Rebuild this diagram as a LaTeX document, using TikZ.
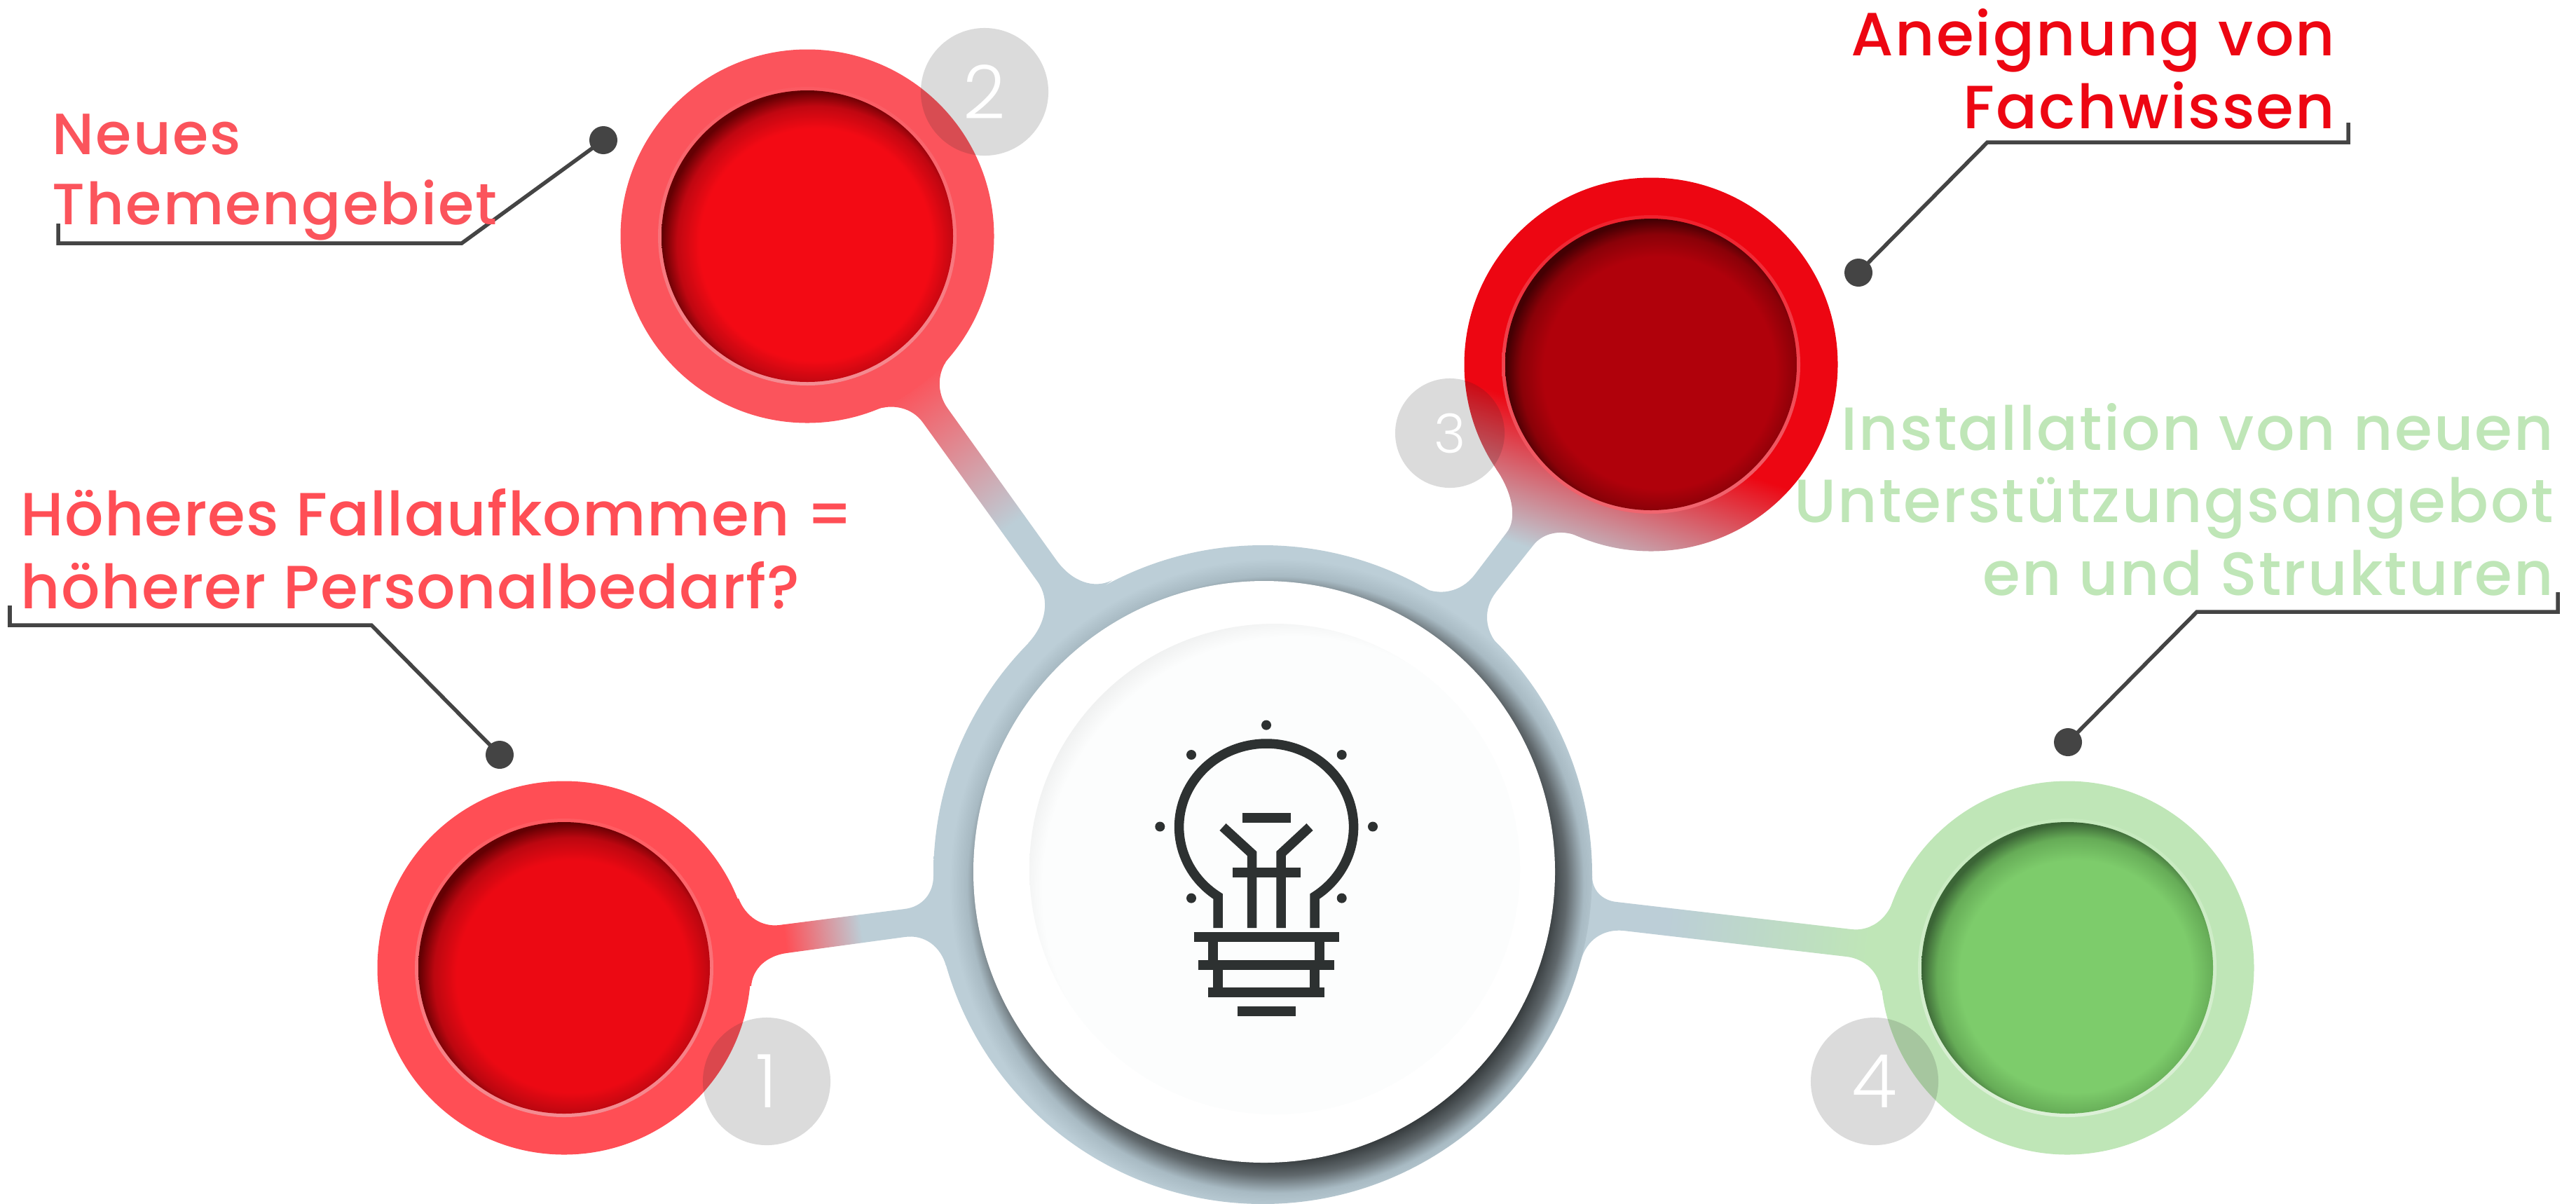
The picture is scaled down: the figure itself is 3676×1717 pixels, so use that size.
\documentclass[tikz,border=0pt]{standalone}
\usepackage{fontspec}
\usetikzlibrary{calc}
\newfontfamily\labelfont[LetterSpace=2.6]{Poppins Medium}
\newfontfamily\labelfontB[LetterSpace=1.5]{Poppins Medium}
\newfontfamily\digitfont{Poppins Light}
\definecolor{ringblue}{HTML}{BCCED7}
\definecolor{aOne}{HTML}{FF4E55}\definecolor{bOne}{HTML}{EC0913}\definecolor{cOne}{HTML}{640003}\definecolor{mOne}{HTML}{BC0710}
\definecolor{aTwo}{HTML}{FB545C}\definecolor{bTwo}{HTML}{F30A14}\definecolor{cTwo}{HTML}{640003}\definecolor{mTwo}{HTML}{C00711}
\definecolor{aThree}{HTML}{ED0612}\definecolor{bThree}{HTML}{B0010B}\definecolor{cThree}{HTML}{440003}\definecolor{mThree}{HTML}{8A0108}
\definecolor{aFour}{HTML}{BFE6B7}\definecolor{bFour}{HTML}{7DCC6B}\definecolor{cFour}{HTML}{3B6536}\definecolor{mFour}{HTML}{66AC57}
\definecolor{rimOneA}{HTML}{FF5A60}\definecolor{rimOneB}{HTML}{F48C92}
\definecolor{rimTwoA}{HTML}{FB5A62}\definecolor{rimTwoB}{HTML}{F48C92}
\definecolor{rimThreeA}{HTML}{F0202C}\definecolor{rimThreeB}{HTML}{F06670}
\definecolor{rimFourA}{HTML}{C5EABD}\definecolor{rimFourB}{HTML}{DDF0D8}
\definecolor{leader}{HTML}{444444}
\definecolor{iconink}{HTML}{2D3131}
\definecolor{sdA}{HTML}{33383A}\definecolor{sdB}{HTML}{60686C}\definecolor{sdC}{HTML}{A8BAC3}
\definecolor{softA}{HTML}{FCFDFD}\definecolor{softB}{HTML}{EFF0F0}
\pgfdeclareradialshading{radOne}{\pgfpointorigin}{color(0bp)=(bOne); color(18bp)=(bOne); color(21.5bp)=(mOne); color(23.8bp)=(cOne); color(50bp)=(cOne)}
\pgfdeclareradialshading{radTwo}{\pgfpointorigin}{color(0bp)=(bTwo); color(18bp)=(bTwo); color(21.5bp)=(mTwo); color(23.8bp)=(cTwo); color(50bp)=(cTwo)}
\pgfdeclareradialshading{radThree}{\pgfpointorigin}{color(0bp)=(bThree); color(18bp)=(bThree); color(21.5bp)=(mThree); color(23.8bp)=(cThree); color(50bp)=(cThree)}
\pgfdeclareradialshading{radFour}{\pgfpointorigin}{color(0bp)=(bFour); color(18bp)=(bFour); color(21.5bp)=(mFour); color(23.8bp)=(cFour); color(50bp)=(cFour)}
\pgfdeclareradialshading{radHub}{\pgfpointorigin}{color(0bp)=(sdA); color(19.5bp)=(sdA); color(20.75bp)=(sdB); color(22bp)=(sdC); color(23.25bp)=(ringblue); color(50bp)=(ringblue)}
\pgfdeclareradialshading{radSoft}{\pgfpointorigin}{color(0bp)=(softA); color(21.4bp)=(softA); color(23.3bp)=(softB); color(50bp)=(softB)}
% colour band along an axis: flat #5, ramp over length #4, flat #6
\newcommand{\gradband}[6]{%
  \begin{scope}[transform canvas={shift={(#1,#2)},rotate=#3}]
    \fill[#5] (-1500,-1500) rectangle (1,1500);
    \fill[#6] (#4-1,-1500) rectangle (#4+1500,1500);
    \shade[left color=#5,right color=#6] (0,-1500) rectangle (#4,1500);
  \end{scope}}
% well: rim plus inner disc with offset shadow
\newcommand{\well}[5]{%
  \shade[shading angle=45,top color=#3,bottom color=#4] (#1,#2) circle[radius=213];
  \begin{scope}
    \clip (#1,#2) circle[radius=208];
    \shade[shading=#5] (#1+12-230,#2+12-230) rectangle (#1+12+230,#2+12+230);
  \end{scope}}
\tikzset{
  x=0.01cm,y=-0.01cm,
  leaderline/.style={draw=leader,line width=0.055cm,line join=miter},
  leaderdot/.style={circle,fill=leader,inner sep=0pt,minimum size=0.4cm},
  badge/.style={circle,fill=black!86,fill opacity=0.16,text opacity=1,text=white,inner sep=0pt,minimum size=1.82cm,font=\digitfont\fontsize{30}{30}\selectfont},
  badgesmall/.style={badge,minimum size=1.56cm,font=\digitfont\fontsize{22}{22}\selectfont},
  lbl/.style={inner sep=0pt,font=\labelfont\fontsize{24.75}{29.3}\selectfont},
  iconline/.style={draw=iconink,line width=0.135cm,line cap=butt,line join=miter},
  icondot/.style={fill=iconink},
}
\begin{document}
\begin{tikzpicture}
\useasboundingbox (0,0) rectangle (3676,1717);
\fill[white] (0,0) rectangle (3676,1717);

% ---- arms
\begin{scope}
\clip (805,1381) -- (1054,1282) .. controls (1064,1308) and (1087,1323) .. (1112,1320) -- (1291,1297) .. controls (1316,1294) and (1332,1275) .. (1332,1250) -- (1500,1250) -- (1500,1378) -- (1350,1378) .. controls (1342,1350) and (1319,1333) .. (1291,1337) -- (1122,1360) .. controls (1094,1364) and (1074,1382) .. (1072,1407) -- cycle;
\gradband{1120}{1340}{7.3}{110}{aOne}{ringblue}
\end{scope}
\begin{scope}
\clip (1152,337) -- (1355,509) .. controls (1337,530) and (1336,560) .. (1352.5,583) -- (1508,800) .. controls (1530,830) and (1561,841) .. (1587,828) -- (1467,918) .. controls (1493,890) and (1499,855) .. (1480,829) -- (1317,603) .. controls (1302,582) and (1274,575) .. (1248,585) -- cycle;
\gradband{1290}{560}{-54}{243}{aTwo}{ringblue}
\end{scope}
\begin{scope}
\clip (2356,520) -- (2135,669) .. controls (2159,704) and (2165,741) .. (2150,760) -- (2104,820.5) .. controls (2085,845) and (2053,852) .. (2025,836) -- (2140,923) .. controls (2118,900) and (2116,869) .. (2134.7,845) -- (2188,778) .. controls (2202,760) and (2228,755) .. (2252,765) -- cycle;
\gradband{2165}{776}{71.6}{197}{ringblue}{aThree}
\end{scope}
\begin{scope}
\clip (2950,1381) -- (2701,1287) .. controls (2691,1313) and (2668,1329) .. (2642,1326) -- (2307,1287) .. controls (2286,1285) and (2272,1270) .. (2272,1250) -- (2100,1250) -- (2100,1370) -- (2256,1370) .. controls (2264,1341) and (2288,1325) .. (2317,1328) -- (2635,1365) .. controls (2661,1368) and (2681,1387) .. (2684,1413) -- cycle;
\gradband{2380}{1310}{-6.6}{290}{ringblue}{aFour}
\end{scope}

% ---- hub ring with drop shadow of the disc
\begin{scope}
\clip (1802,1248) circle[radius=470];
\shade[shading=radHub] (1820-500,1262-500) rectangle (1820+500,1262+500);
\end{scope}
\fill[white] (1804,1244) circle[radius=415];
\begin{scope}
\clip (1819,1240) circle[radius=350];
\shade[shading=radSoft] (1847-420,1268-420) rectangle (1847+420,1268+420);
\end{scope}

% ---- rings
\fill[aOne] (805,1381) circle[radius=266.5];
\fill[aTwo] (1152,337) circle[radius=266.5];
\begin{scope}
\clip (2356,520) circle[radius=266.5];
\gradband{2165}{776}{71.6}{197}{ringblue}{aThree}
\end{scope}
\fill[aFour] (2950,1381) circle[radius=266.5];

\well{805}{1381}{rimOneA}{rimOneB}{radOne}
\well{1152}{337}{rimTwoA}{rimTwoB}{radTwo}
\well{2356}{520}{rimThreeA}{rimThreeB}{radThree}
\well{2950}{1381}{rimFourA}{rimFourB}{radFour}

% ---- badges
\node[badge] (b1) at (1094,1543) {1};
\node[badge] (b2) at (1405,131) {2};
\node[badgesmall] (b3) at (2069,618) {3};
\node[badge] (b4) at (2675,1543) {4};

% ---- bulb icon
\draw[iconline] (1738,1324) -- (1738,1279) arc[start angle=123.7,end angle=416.3,x radius=124.5,y radius=119] -- (1876,1324);
\draw[iconline] (1786.5,1324) -- (1786.5,1218) -- (1745,1180);
\draw[iconline] (1828,1324) -- (1828,1218) -- (1869,1180);
\draw[iconline] (1772.7,1167) -- (1841.7,1167);
\draw[iconline] (1759,1245) -- (1855.7,1245);
\draw[iconline] (1703.7,1337) -- (1910.7,1337);
\draw[iconline] (1710.3,1377) -- (1904,1377);
\draw[iconline] (1724,1416) -- (1890,1416);
\draw[iconline] (1765.7,1443) -- (1849,1443);
\draw[iconline] (1731,1337) -- (1731,1377);
\draw[iconline] (1883,1337) -- (1883,1377);
\draw[iconline] (1738,1377) -- (1738,1416);
\draw[iconline] (1876,1377) -- (1876,1416);
\foreach \ix/\iy in {1807/1034.6,1700/1077,1914.7/1077,1655.3/1179.5,1959/1179.5,1700/1281.6,1914.7/1281.6}
  \fill[icondot] (\ix,\iy) circle[radius=7];

% ---- leader lines
\node[leaderdot] (d1) at (713,1077) {};
\node[leaderdot] (d2) at (861,200) {};
\node[leaderdot] (d3) at (2652,389) {};
\node[leaderdot] (d4) at (2951,1059) {};
\coordinate (e1a) at (14,864); \coordinate (e1b) at (14,892); \coordinate (e1c) at (530,892);
\coordinate (e2a) at (83,319); \coordinate (e2b) at (83,347); \coordinate (e2c) at (659,347);
\coordinate (e3a) at (3351,175); \coordinate (e3b) at (3351,203); \coordinate (e3c) at (2836,203);
\coordinate (e4a) at (3650,845); \coordinate (e4b) at (3650,873); \coordinate (e4c) at (3135,873);
\draw[leaderline] (e1a) -- (e1b) -- (e1c) -- (d1.center);
\draw[leaderline] (e2a) -- (e2b) -- (e2c) -- (d2.center);
\draw[leaderline] (e3a) -- (e3b) -- (e3c) -- (d3.center);
\draw[leaderline] (e4a) -- (e4b) -- (e4c) -- (d4.center);

% ---- labels
\node[lbl,anchor=base west,align=left,text=aTwo,font=\labelfont\fontsize{23.6}{28.2}\selectfont] (t2) at (74,320) {Neues\\Themengebiet};
\node[lbl,anchor=base west,align=left,text=aOne,font=\labelfontB\fontsize{24.75}{29.3}\selectfont] (t1) at (29,868) {Höheres Fallaufkommen =\\höherer Personalbedarf?};
\node[lbl,anchor=base east,align=right,text=aThree] (t3) at (3333,183) {Aneignung von\\Fachwissen};
\node[lbl,anchor=base east,align=right,text=aFour] (t4) at (3645,849) {Installation von neuen\\Unterstützungsangebot\\en und Strukturen};
\end{tikzpicture}
\end{document}
